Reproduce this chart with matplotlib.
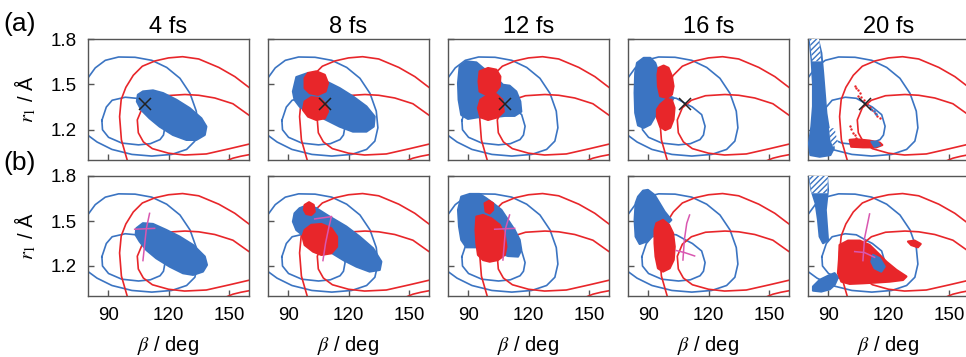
import matplotlib
matplotlib.use('Agg')
import matplotlib.pyplot as plt

plt.rcParams.update({
    'font.family': 'Liberation Sans',
    'mathtext.fontset': 'stix',
    'axes.linewidth': 1.0,
    'axes.edgecolor': '#555555',
})

BLUE = '#3b74c2'
RED = '#e8262a'
MAGENTA = '#d957b0'

# ========== DATA (beta in deg, r1 in Angstrom) ==========
TIMES = ['4 fs', '8 fs', '12 fs', '16 fs', '20 fs']
X_TICKS = [90, 120, 150]
Y_TICKS = [1.2, 1.5, 1.8]

# potential energy contours (same in every panel)
BLUE_OUTER = [(77.5, 1.48), (80, 1.543), (83.6, 1.609), (88.6, 1.659), (95.2, 1.681),
              (103.4, 1.679), (111.7, 1.659), (119.1, 1.612), (125.7, 1.540),
              (130.7, 1.440), (133.8, 1.323), (134.6, 1.213), (133.1, 1.125),
              (129, 1.070), (121.6, 1.037), (111.7, 1.026), (101.8, 1.037),
              (91.9, 1.070), (84.5, 1.119), (80, 1.163), (77.5, 1.23)]
BLUE_INNER = [(86.9, 1.262), (89.1, 1.35), (92, 1.395), (98.5, 1.415), (104, 1.408),
              (108.4, 1.375), (112, 1.35), (116.6, 1.30), (118.3, 1.223),
              (117.5, 1.165), (115.8, 1.135), (111, 1.108), (105.1, 1.100),
              (96.8, 1.112), (90.2, 1.150), (87.2, 1.20), (86.9, 1.262)]
RED_OUTER = [(99.9, 0.98), (96.6, 1.133), (95.7, 1.287), (96.5, 1.40), (98.8, 1.48),
             (102.5, 1.56), (107, 1.62), (113.3, 1.655), (120, 1.675), (127, 1.683),
             (135, 1.668), (145, 1.612), (153, 1.551), (158, 1.50), (162, 1.46)]
RED_INNER = [(162, 1.28), (160, 1.296), (152, 1.372), (143, 1.41), (135, 1.428),
             (128.2, 1.433), (118.5, 1.425), (111.5, 1.395), (107, 1.345),
             (104.5, 1.265), (105, 1.18), (107.5, 1.12), (112, 1.075), (120, 1.045),
             (128, 1.033), (138.8, 1.040), (150.4, 1.075), (160, 1.105), (162, 1.11)]
RED_CORNER = [(148, 0.99), (152, 1.012), (156, 1.025), (162, 1.04)]

# Franck-Condon point marker (row a)
X_MARK = (108.5, 1.37)

# wave packet outlines, row (a)
A4_BLUE = [(104.8, 1.431), (107.3, 1.453), (112.3, 1.460), (117.3, 1.442), (123.9, 1.398),
           (130.5, 1.343), (136.3, 1.276), (138.8, 1.221), (138.0, 1.166), (133.8, 1.133),
           (128.9, 1.133), (122.2, 1.166), (115.6, 1.221), (110.6, 1.276), (106.5, 1.331),
           (104.3, 1.387)]
A8_BLUE = [(92.4, 1.453), (94.1, 1.548), (99.9, 1.575), (109, 1.519), (115.6, 1.475),
           (122.2, 1.420), (128.9, 1.354), (133, 1.287), (132.5, 1.221), (128.9, 1.188),
           (122.2, 1.188), (115.6, 1.221), (109, 1.265), (104, 1.298), (99, 1.320),
           (95.7, 1.354), (93.2, 1.398)]
A8_RED1 = [(98.2, 1.541), (99.9, 1.575), (104, 1.586), (108.2, 1.563), (109.8, 1.508),
           (108.6, 1.453), (104.8, 1.431), (100.7, 1.442), (98.2, 1.475)]
A8_RED2 = [(98.2, 1.387), (101.5, 1.415), (105.7, 1.409), (109, 1.365), (109.8, 1.320),
           (108.2, 1.276), (104, 1.265), (99.9, 1.287), (97.4, 1.331)]
A12_BLUE = [(85.8, 1.619), (89.1, 1.652), (94.1, 1.645), (97.4, 1.608), (104, 1.541),
            (107.3, 1.497), (110.6, 1.491), (113.9, 1.453), (115.9, 1.387), (116.4, 1.320),
            (113.1, 1.292), (108.2, 1.292), (102.4, 1.283), (94.9, 1.283), (89.9, 1.272),
            (86.6, 1.298), (85.3, 1.398), (85, 1.508)]
A12_RED1 = [(95.7, 1.586), (99.9, 1.608), (104, 1.597), (106, 1.552), (105.7, 1.486),
            (103.2, 1.442), (99, 1.431), (95.7, 1.453), (95.2, 1.519)]
A12_RED2 = [(96.1, 1.398), (99.9, 1.431), (104, 1.435), (107, 1.398), (107.7, 1.320),
            (104.8, 1.283), (99.9, 1.265), (96.1, 1.283), (94.9, 1.343)]
A16_BLUE = [(84.5, 1.642), (87.8, 1.675), (91.1, 1.675), (93.5, 1.642), (95.2, 1.576),
            (96.5, 1.488), (98.5, 1.433), (102.6, 1.411), (101.8, 1.389), (97.7, 1.378),
            (95.2, 1.345), (93.5, 1.290), (91.1, 1.235), (87.8, 1.213), (85, 1.229),
            (83.6, 1.312), (83.3, 1.444), (83.6, 1.576)]
A16_RED1 = [(95.2, 1.609), (97.7, 1.624), (100.1, 1.609), (101.8, 1.554), (102.6, 1.488),
            (101.8, 1.433), (99.3, 1.411), (96, 1.422), (94.9, 1.488), (94.7, 1.565)]
A16_RED2 = [(96, 1.367), (99.3, 1.404), (101.8, 1.396), (103.1, 1.345), (102.6, 1.268),
            (101, 1.213), (98.5, 1.198), (96, 1.220), (94.4, 1.279), (94.4, 1.334)]
A20_BLUE = [(81.2, 1.796), (85, 1.796), (86.6, 1.707), (87.5, 1.575), (88.3, 1.442),
            (89.1, 1.309), (90.4, 1.199), (92.1, 1.133), (92.8, 1.077), (91.1, 1.033),
            (85.8, 1.022), (81.2, 1.033), (80.5, 1.110), (81.7, 1.221), (82.5, 1.354),
            (82.5, 1.508), (81.8, 1.663), (81, 1.773)]
A20_BLUE_TIP = [(111.5, 1.121), (114.3, 1.121), (115.6, 1.099), (113.1, 1.088)]
A20_RED = [(100.7, 1.133), (104, 1.137), (110.6, 1.128), (115.6, 1.115), (116.9, 1.099),
           (113.9, 1.084), (107.3, 1.084), (101.5, 1.088)]
A20_HATCH = [[(80.8, 1.8), (85.5, 1.8), (86.6, 1.652), (82.1, 1.652)],
             [(90.4, 1.21), (93.2, 1.21), (94.9, 1.11), (92.4, 1.088), (91.1, 1.133)]]
A20_RED_DOTS_B = [103.2, 104, 104.8, 105.7, 104.8, 106.5, 107.7, 109.3, 110.6, 112,
                  113.1, 114.3, 115.6, 101, 101.5, 102.4, 103.2, 103.7]
A20_RED_DOTS_R = [1.491, 1.475, 1.460, 1.442, 1.420, 1.415, 1.398, 1.371, 1.349, 1.331,
                  1.309, 1.292, 1.276, 1.225, 1.203, 1.181, 1.166, 1.144]
A20_BLUE_DOTS_B = [111.5, 112.8, 114.0]
A20_BLUE_DOTS_R = [1.336, 1.322, 1.306]

# wave packet outlines, row (b)
B4_BLUE = [(104, 1.451), (107.3, 1.485), (112.3, 1.480), (118.9, 1.440), (125.5, 1.396),
           (132.2, 1.340), (138, 1.263), (139.1, 1.207), (137.1, 1.163), (132.2, 1.141),
           (127.2, 1.152), (120.6, 1.196), (113.9, 1.252), (109, 1.307), (105.7, 1.363),
           (103.7, 1.407)]
B8_BLUE = [(93.2, 1.551), (95.7, 1.585), (99.9, 1.607), (104, 1.585), (110.6, 1.529),
           (118.9, 1.463), (125.5, 1.396), (132.2, 1.318), (136.3, 1.229), (135.5, 1.174),
           (130.5, 1.163), (123.9, 1.196), (117.3, 1.241), (110.6, 1.296), (104, 1.352),
           (98.2, 1.396), (94.1, 1.440), (92.4, 1.496)]
B8_RED1 = [(98.2, 1.607), (100.4, 1.625), (102.7, 1.607), (103.2, 1.562), (101.5, 1.540),
           (99, 1.547), (97.9, 1.574)]
B8_RED2 = [(98.2, 1.440), (101.5, 1.474), (106.5, 1.480), (111.5, 1.451), (114.3, 1.396),
           (114.3, 1.329), (111.5, 1.285), (106.5, 1.274), (102.4, 1.296), (98.2, 1.340),
           (97.1, 1.396)]
B12_BLUE = [(86.6, 1.662), (90.8, 1.680), (95.7, 1.680), (99, 1.651), (102.4, 1.618),
            (106.5, 1.574), (109.8, 1.507), (113.1, 1.440), (115.6, 1.374), (116.4, 1.307),
            (114.8, 1.263), (109.8, 1.267), (104, 1.296), (99, 1.318), (94.1, 1.325),
            (89.1, 1.325), (86.6, 1.374), (85.5, 1.463), (85, 1.574)]
B12_RED1 = [(98.2, 1.618), (100.4, 1.634), (102.4, 1.618), (102.4, 1.574), (100.7, 1.551),
            (98.7, 1.563)]
B12_RED2 = [(94.1, 1.529), (97.4, 1.540), (101.5, 1.518), (105.7, 1.474), (108.2, 1.407),
            (109, 1.329), (108.2, 1.274), (104.8, 1.240), (100.7, 1.229), (97.4, 1.240),
            (94.9, 1.274), (94.1, 1.352), (93.7, 1.440)]
B16_BLUE = [(85, 1.662), (87.5, 1.702), (89.9, 1.707), (93.2, 1.673), (95.7, 1.618),
            (98.2, 1.562), (101.5, 1.507), (99.9, 1.485), (95.7, 1.463), (92.4, 1.407),
            (89.1, 1.363), (85.8, 1.347), (83.8, 1.396), (83.3, 1.507), (83.8, 1.618)]
B16_RED = [(94.1, 1.485), (97.4, 1.507), (100.4, 1.474), (102.4, 1.418), (103.2, 1.329),
           (102.7, 1.241), (100.7, 1.185), (97.4, 1.163), (94.9, 1.185), (93.7, 1.263),
           (93.2, 1.352), (93.2, 1.440)]
B20_BLUE1 = [(80.8, 1.796), (89.4, 1.796), (89.9, 1.707), (88.8, 1.574), (89.4, 1.463),
             (89.9, 1.374), (87.5, 1.352), (85.8, 1.396), (85, 1.507), (83.8, 1.618),
             (81.7, 1.707)]
B20_BLUE2 = [(82.5, 1.063), (85.8, 1.107), (89.9, 1.134), (93.2, 1.152), (94.9, 1.125),
             (93.2, 1.074), (90.8, 1.045), (86.6, 1.030), (82.5, 1.036)]
B20_RED = [(95.7, 1.340), (99.9, 1.369), (105.7, 1.369), (110.6, 1.340), (114.8, 1.285),
           (118.9, 1.229), (123.9, 1.174), (128.9, 1.130), (127.2, 1.107), (120.6, 1.096),
           (113.9, 1.090), (107.3, 1.085), (100.7, 1.081), (96.6, 1.096), (94.9, 1.152),
           (95.4, 1.241)]
B20_BLUE_PATCH = [(112.3, 1.274), (115.6, 1.252), (118.1, 1.196), (116.4, 1.163),
                  (113.1, 1.185), (111.5, 1.229)]
B20_RED_SMALL = [(129.7, 1.363), (133, 1.369), (136, 1.347), (134.6, 1.325), (131.3, 1.340)]
B20_HATCH = [[(80.5, 1.8), (89.9, 1.8), (89.6, 1.685), (81.8, 1.685)]]

# trajectory crosses, row (b)
MAG_4 = [[(110.6, 1.551), (109, 1.45), (107.3, 1.236)], [(103.2, 1.445), (113.1, 1.451)]]
MAG_8 = [[(111.5, 1.529), (110.3, 1.462), (108.6, 1.352), (107.3, 1.236)],
         [(103.2, 1.514), (111.5, 1.529)]]
MAG_12 = [[(110.6, 1.54), (108.6, 1.451), (107.3, 1.24)], [(103.2, 1.445), (113.1, 1.451)]]
MAG_16 = [[(110.6, 1.54), (109.2, 1.485), (108, 1.374), (107.3, 1.24)],
          [(104, 1.303), (108, 1.29), (113.1, 1.267)]]
MAG_20 = [[(110.6, 1.547), (108.1, 1.385), (107.3, 1.236)],
          [(103.2, 1.296), (108, 1.29), (113.1, 1.258)]]

ROW_A = [
    dict(blue=[A4_BLUE], red=[], hatch=[]),
    dict(blue=[A8_BLUE], red=[A8_RED1, A8_RED2], hatch=[]),
    dict(blue=[A12_BLUE], red=[A12_RED1, A12_RED2], hatch=[]),
    dict(blue=[A16_BLUE], red=[A16_RED1, A16_RED2], hatch=[]),
    dict(blue=[A20_BLUE], red=[A20_RED], hatch=A20_HATCH, over=[A20_BLUE_TIP]),
]
ROW_B = [
    dict(blue=[B4_BLUE], red=[], hatch=[], mag=MAG_4),
    dict(blue=[B8_BLUE], red=[B8_RED1, B8_RED2], hatch=[], mag=MAG_8),
    dict(blue=[B12_BLUE], red=[B12_RED1, B12_RED2], hatch=[], mag=MAG_12),
    dict(blue=[B16_BLUE], red=[B16_RED], hatch=[], mag=MAG_16),
    dict(blue=[B20_BLUE1, B20_BLUE2], red=[B20_RED, B20_RED_SMALL], hatch=B20_HATCH,
         over=[B20_BLUE_PATCH], mag=MAG_20),
]


def line(ax, pts, color, lw=1.2):
    ax.plot([p[0] for p in pts], [p[1] for p in pts], color=color, lw=lw,
            solid_joinstyle='round')


def blob(ax, pts, color):
    ax.fill([p[0] for p in pts], [p[1] for p in pts], facecolor=color,
            edgecolor=color, lw=1.6, joinstyle='round', zorder=3)


def draw_panel(ax, spec):
    for c in (BLUE_OUTER, BLUE_INNER):
        line(ax, c, BLUE)
    for c in (RED_OUTER, RED_INNER, RED_CORNER):
        line(ax, c, RED)
    for pts in spec['blue']:
        blob(ax, pts, BLUE)
    for pts in spec['hatch']:
        ax.fill([p[0] for p in pts], [p[1] for p in pts], facecolor='white',
                edgecolor=BLUE, hatch='//////', lw=0, zorder=3.5)
    for pts in spec['red']:
        blob(ax, pts, RED)
    for pts in spec.get('over', []):
        blob(ax, pts, BLUE)
    for seg in spec.get('mag', []):
        ax.plot([p[0] for p in seg], [p[1] for p in seg], color=MAGENTA, lw=1.1, zorder=5)


# ========== FIGURE ==========
fig = plt.figure(figsize=(9.66, 3.57), dpi=100)
W, H = 966.0, 357.0
lefts = [88, 268, 448, 628, 808]
rows = [(39, 160), (176, 296)]

for ri, (top, bot) in enumerate(rows):
    specs = ROW_A if ri == 0 else ROW_B
    for ci, x0 in enumerate(lefts):
        ax = fig.add_axes([x0 / W, 1 - bot / H, 161 / W, (bot - top) / H])
        draw_panel(ax, specs[ci])
        if ri == 0:
            ax.plot(*X_MARK, marker='x', color='#222222', ms=8, mew=1.1, zorder=6)
            ax.set_title(TIMES[ci], fontsize=17, pad=4)
            if ci == 4:
                ax.scatter(A20_RED_DOTS_B, A20_RED_DOTS_R, s=3, color=RED, lw=0, zorder=4)
                ax.scatter(A20_BLUE_DOTS_B, A20_BLUE_DOTS_R, s=4, color=BLUE, lw=0, zorder=4)
        ax.set_xlim(80, 160)
        ax.set_ylim(1.0, 1.8)
        ax.set_xticks(X_TICKS)
        ax.set_yticks(Y_TICKS)
        ax.tick_params(direction='in', length=4, width=1, color='#555555',
                       labelsize=13.5, pad=8)
        ax.tick_params(axis='x', pad=8)
        if ri == 0:
            ax.set_xticklabels([])
        else:
            ax.set_xlabel(r'$\beta$ / deg', fontsize=14.5, labelpad=7)
        if ci == 0:
            ax.set_ylabel(r'$r_1$ / Å', fontsize=14.5, labelpad=9)
        else:
            ax.set_yticklabels([])

fig.text(3 / W, 1 - 24 / H, '(a)', fontsize=19, va='center', ha='left')
fig.text(3 / W, 1 - 163 / H, '(b)', fontsize=19, va='center', ha='left')

fig.savefig('out.png', dpi=100)
